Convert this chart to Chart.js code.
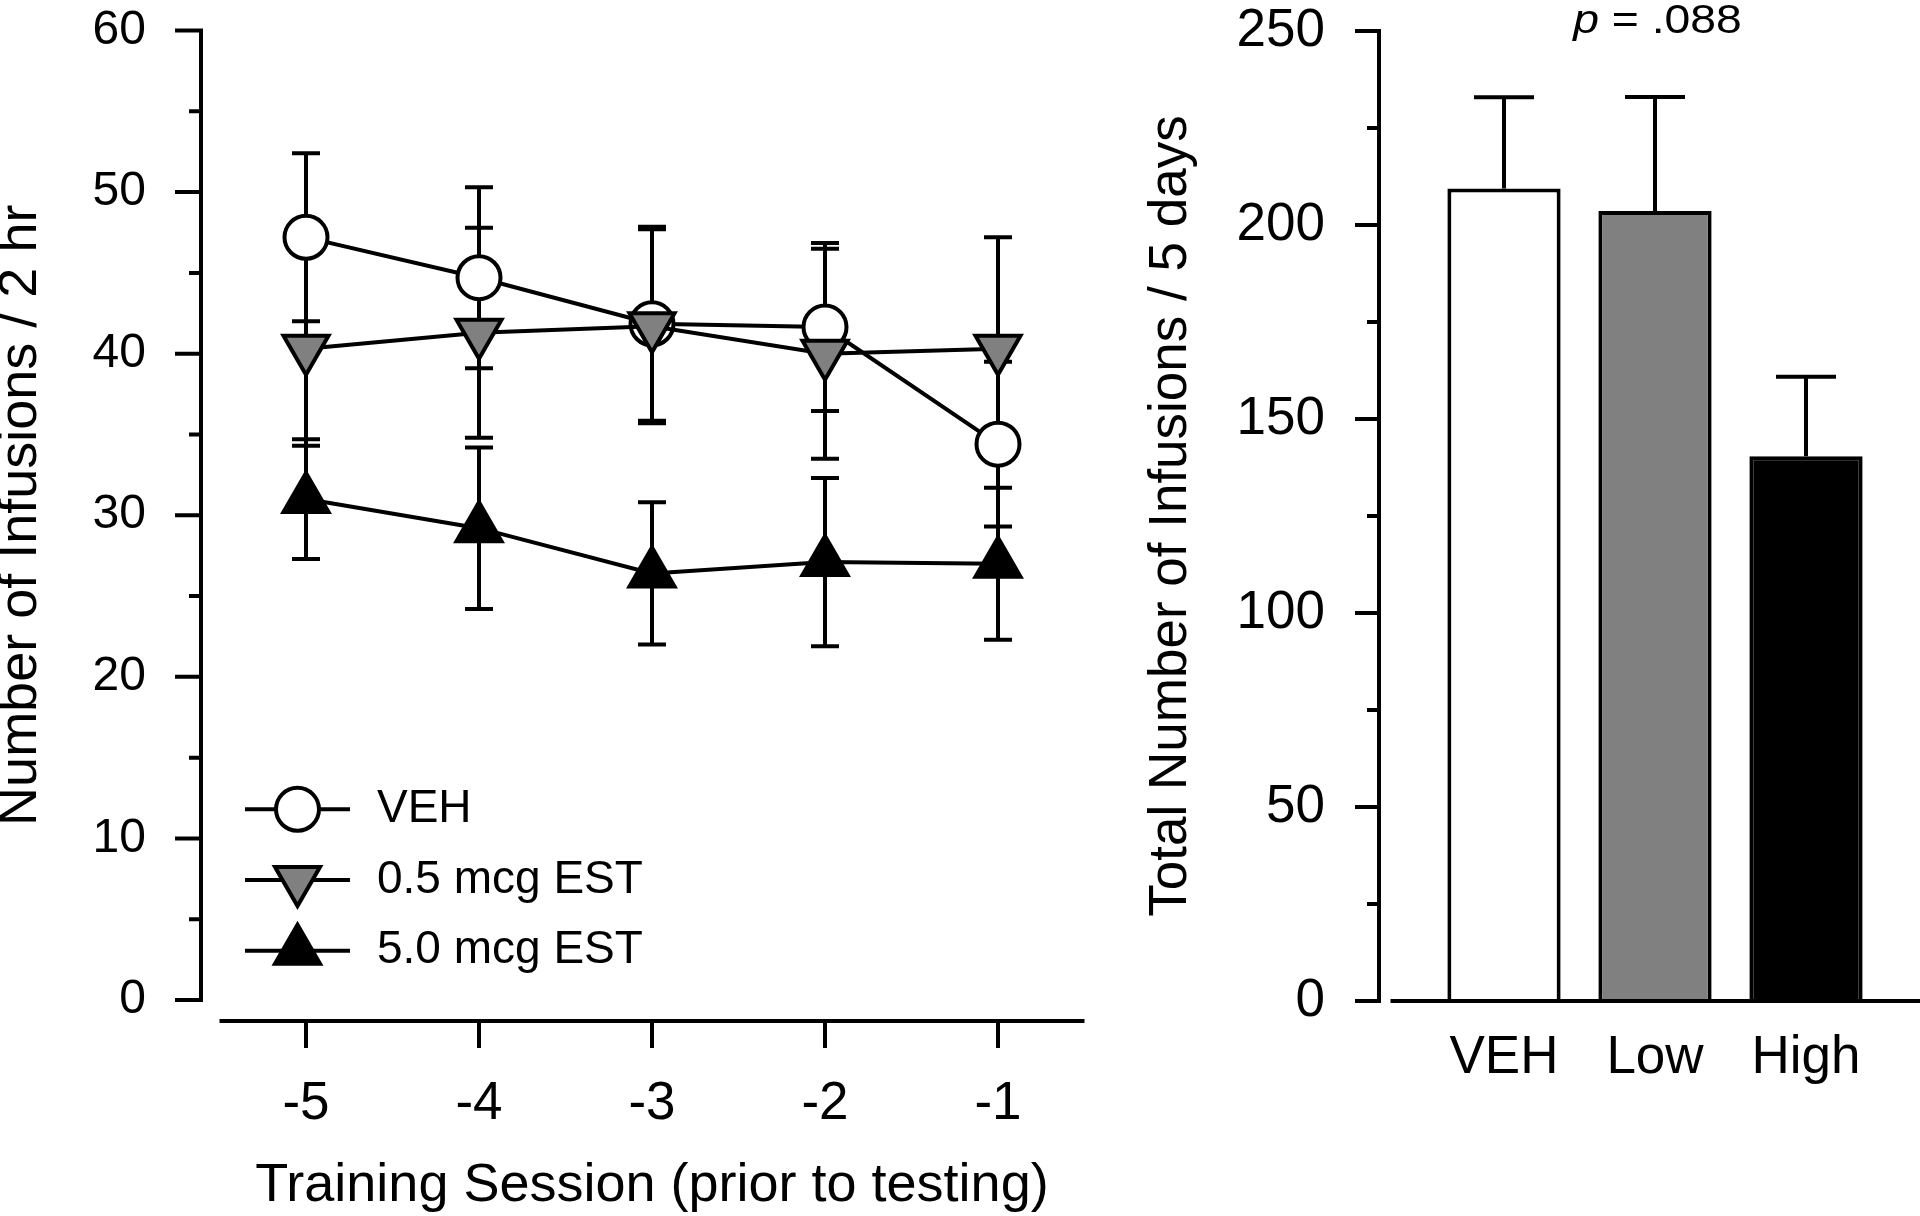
<!DOCTYPE html>
<html>
<head>
<meta charset="utf-8">
<script src="https://cdn.jsdelivr.net/npm/chart.js@4.4.1/dist/chart.umd.min.js"></script>
<style>
  html, body { margin: 0; padding: 0; background: #fff; }
  body { width: 1920px; height: 1216px; position: relative; overflow: hidden; }
  .panel { position: absolute; top: 0; height: 1216px; }
  #left { left: 0; width: 1110px; }
  #right { left: 1110px; width: 810px; }
</style>
</head>
<body>
<div class="panel" id="left"><canvas id="sessionChart"></canvas></div>
<div class="panel" id="right"><canvas id="totalChart"></canvas></div>
<script>
// left panel: infusions per training session
const sessions = ['-5', '-4', '-3', '-2', '-1'];
const seriesNames = ['VEH', '0.5 mcg EST', '5.0 mcg EST'];
const vehMeans = [47.2, 44.7, 41.85, 41.65, 34.4];
const vehSem = [5.2, 5.6, 6.0, 5.2, 5.1];
const lowMeans = [40.3, 41.3, 41.7, 40.0, 40.3];
const lowSem = [6.0, 6.5, 6.0, 6.5, 6.9];
const highMeans = [31.0, 29.2, 26.4, 27.1, 27.0];
const highSem = [3.7, 5.0, 4.4, 5.2, 4.7];

// right panel: total infusions over 5 days
const groups = ['VEH', 'Low', 'High'];
const totalMeans = [209.4, 203.6, 140.4];
const totalSem = [23.5, 29.4, 20.5];
const pValueText = '.088';

const FONT = "'Liberation Sans', Arial, sans-serif";
Chart.defaults.color = '#000';
Chart.defaults.font.family = FONT;

// invisible tick marks, used only to push the labels away from the axis
function spacer(len) {
    return { display: true, drawOnChartArea: false, drawTicks: true, tickLength: len, color: 'rgba(0,0,0,0)' };
}

// error bars drawn under the markers
const errorBars = {
    id: 'errorBars',
    beforeDatasetsDraw(chart, args, o) {
        const { ctx } = chart;
        const y = chart.scales.y;
        ctx.save();
        ctx.strokeStyle = '#000';
        ctx.lineWidth = o.lineWidth;
        chart.data.datasets.forEach((ds, i) => {
            if (!ds.errorBars) return;
            chart.getDatasetMeta(i).data.forEach((el, j) => {
                const v = ds.data[j], e = ds.errorBars[j];
                const top = y.getPixelForValue(v + e);
                const bottom = o.upOnly ? y.getPixelForValue(v) : y.getPixelForValue(v - e);
                ctx.beginPath();
                ctx.moveTo(el.x, bottom);
                ctx.lineTo(el.x, top);
                ctx.moveTo(el.x - o.cap, top);
                ctx.lineTo(el.x + o.cap, top);
                if (!o.upOnly) {
                    ctx.moveTo(el.x - o.cap, bottom);
                    ctx.lineTo(el.x + o.cap, bottom);
                }
                ctx.stroke();
            });
        });
        ctx.restore();
    }
};

// detached axis lines with major / minor ticks
const axisFrame = {
    id: 'axisFrame',
    afterDraw(chart, args, o) {
        const { ctx, chartArea: area, scales: { x, y } } = chart;
        const lw = o.lineWidth;
        ctx.save();
        ctx.strokeStyle = '#000';
        ctx.lineWidth = lw;
        const ax = area.left + o.yAxisShift;
        const vals = y.ticks.map(t => t.value);
        ctx.beginPath();
        ctx.moveTo(ax, y.getPixelForValue(y.max) - lw / 2);
        ctx.lineTo(ax, y.getPixelForValue(y.min) + lw / 2);
        vals.forEach((v, k) => {
            const py = y.getPixelForValue(v);
            ctx.moveTo(ax - o.majorTick, py);
            ctx.lineTo(ax, py);
            if (k > 0) {
                const pm = y.getPixelForValue((v + vals[k - 1]) / 2);
                ctx.moveTo(ax - o.minorTick, pm);
                ctx.lineTo(ax, pm);
            }
        });
        ctx.stroke();

        const ay = area.bottom + o.xAxisShift;
        ctx.beginPath();
        ctx.moveTo(area.left + o.xAxisStart, ay);
        ctx.lineTo(o.xAxisToEdge ? chart.width : area.right, ay);
        if (o.xTick > 0) {
            x.ticks.forEach((t, k) => {
                const px = x.getPixelForTick(k);
                ctx.moveTo(px, ay);
                ctx.lineTo(px, ay + o.xTick);
            });
        }
        ctx.stroke();
        ctx.restore();
    }
};

// legend: line through marker, then label
const lineLegend = {
    id: 'lineLegend',
    afterDraw(chart, args, o) {
        const { ctx } = chart;
        ctx.save();
        chart.data.datasets.forEach((ds, i) => {
            const cy = o.top + i * o.rowHeight;
            const cx = o.left + o.lineLength / 2;
            ctx.strokeStyle = '#000';
            ctx.lineWidth = ds.borderWidth;
            ctx.beginPath();
            ctx.moveTo(o.left, cy);
            ctx.lineTo(o.left + o.lineLength, cy);
            ctx.stroke();
            ctx.fillStyle = ds.pointBackgroundColor;
            ctx.lineWidth = ds.pointBorderWidth;
            Chart.helpers.drawPoint(ctx, {
                pointStyle: ds.pointStyle,
                rotation: ds.pointRotation || 0,
                radius: ds.pointRadius,
                borderWidth: ds.pointBorderWidth
            }, cx, cy);
            ctx.fillStyle = '#000';
            ctx.font = o.size + 'px ' + FONT;
            ctx.textBaseline = 'middle';
            ctx.textAlign = 'left';
            ctx.fillText(ds.label, o.left + o.lineLength + o.textGap, cy);
        });
        ctx.restore();
    }
};

// "p = .088" above the bars
const pValueNote = {
    id: 'pValueNote',
    afterDraw(chart, args, o) {
        const { ctx, scales: { x } } = chart;
        const cx = x.getPixelForValue(o.index) + o.dx;
        const italic = 'italic ' + o.size + 'px ' + FONT;
        const plain = o.size + 'px ' + FONT;
        ctx.save();
        ctx.fillStyle = '#000';
        ctx.textBaseline = 'alphabetic';
        ctx.textAlign = 'left';
        ctx.font = italic;
        const w1 = ctx.measureText('p').width;
        ctx.font = plain;
        const w2 = ctx.measureText(' = ' + pValueText).width;
        ctx.translate(cx, o.baseline);
        ctx.scale(o.stretch, 1);
        const sx = -(w1 + w2) / 2;
        ctx.font = italic;
        ctx.fillText('p', sx, 0);
        ctx.font = plain;
        ctx.fillText(' = ' + pValueText, sx + w1, 0);
        ctx.restore();
    }
};

const lineStyle = {
    borderColor: '#000',
    borderWidth: 4,
    pointBorderColor: '#000',
    pointBorderWidth: 4,
    pointHoverBorderWidth: 4,
    tension: 0,
    clip: false
};

new Chart(document.getElementById('sessionChart'), {
    type: 'line',
    data: {
        labels: sessions,
        datasets: [{
            ...lineStyle,
            label: seriesNames[0],
            data: vehMeans,
            errorBars: vehSem,
            pointStyle: 'circle',
            pointRadius: 21.5,
            pointHoverRadius: 21.5,
            pointBackgroundColor: '#ffffff',
            order: 3
        }, {
            ...lineStyle,
            label: seriesNames[1],
            data: lowMeans,
            errorBars: lowSem,
            pointStyle: 'triangle',
            pointRotation: 180,
            pointRadius: 26,
            pointHoverRadius: 26,
            pointBackgroundColor: '#808080',
            order: 2
        }, {
            ...lineStyle,
            label: seriesNames[2],
            data: highMeans,
            errorBars: highSem,
            pointStyle: 'triangle',
            pointRadius: 26,
            pointHoverRadius: 26,
            pointBackgroundColor: '#000000',
            order: 1
        }]
    },
    options: {
        responsive: true,
        maintainAspectRatio: false,
        animation: false,
        events: [],
        layout: { autoPadding: false, padding: { top: 30.5, right: 25.5, bottom: 0, left: 0 } },
        scales: {
            x: {
                type: 'category',
                offset: true,
                grid: spacer(78),
                border: { display: false },
                ticks: { font: { size: 53, lineHeight: 1 }, padding: 0, maxRotation: 0 },
                title: {
                    display: true,
                    text: 'Training Session (prior to testing)',
                    font: { size: 54, lineHeight: 1 },
                    padding: { top: 0, bottom: 2.5 }
                },
                afterFit: (s) => { s.height = 216; }
            },
            y: {
                min: 0,
                max: 60,
                grid: spacer(73.5),
                border: { display: false },
                ticks: { stepSize: 10, font: { size: 48, lineHeight: 1 }, padding: 0 },
                title: {
                    display: true,
                    text: 'Number of Infusions / 2 hr',
                    font: { size: 54, lineHeight: 0.8 },
                    padding: { top: 0, bottom: 0 }
                },
                afterFit: (s) => { s.width = 219.5; }
            }
        },
        plugins: {
            legend: { display: false },
            tooltip: { enabled: false },
            errorBars: { lineWidth: 4, cap: 14, upOnly: false },
            axisFrame: { lineWidth: 4, yAxisShift: -18.5, majorTick: 26, minorTick: 12, xAxisShift: 21, xAxisStart: 0, xAxisToEdge: false, xTick: 27 },
            lineLegend: { left: 245, top: 809.3, rowHeight: 70.7, lineLength: 105, textGap: 27, size: 46 }
        }
    },
    plugins: [errorBars, axisFrame, lineLegend]
});

new Chart(document.getElementById('totalChart'), {
    type: 'bar',
    data: {
        labels: groups,
        datasets: [{
            data: totalMeans,
            errorBars: totalSem,
            backgroundColor: ['#ffffff', '#808080', '#000000'],
            borderColor: '#000',
            borderWidth: 4,
            barPercentage: 0.75,
            categoryPercentage: 1
        }]
    },
    options: {
        responsive: true,
        maintainAspectRatio: false,
        animation: false,
        events: [],
        layout: { autoPadding: false, padding: { top: 31, right: 38.5, bottom: 0, left: 0 } },
        scales: {
            x: {
                grid: spacer(31),
                border: { display: false },
                ticks: { font: { size: 53, lineHeight: 1 }, padding: 0, maxRotation: 0 },
                afterFit: (s) => { s.height = 215; }
            },
            y: {
                min: 0,
                max: 250,
                grid: spacer(103.5),
                border: { display: false },
                ticks: { stepSize: 50, font: { size: 53, lineHeight: 1 }, padding: 0 },
                title: {
                    display: true,
                    text: 'Total Number of Infusions / 5 days',
                    font: { size: 53, lineHeight: 1 },
                    padding: { top: 34.8, bottom: 0 }
                },
                afterFit: (s) => { s.width = 318.5; }
            }
        },
        plugins: {
            legend: { display: false },
            tooltip: { enabled: false },
            errorBars: { lineWidth: 4, cap: 30, upOnly: true },
            axisFrame: { lineWidth: 4, yAxisShift: -49.5, majorTick: 24, minorTick: 12, xAxisShift: 0, xAxisStart: -38, xAxisToEdge: true, xTick: 0 },
            pValueNote: { index: 1, dx: 2.5, baseline: 33.3, size: 41, stretch: 1.13 }
        }
    },
    plugins: [errorBars, axisFrame, pValueNote]
});
</script>
</body>
</html>
